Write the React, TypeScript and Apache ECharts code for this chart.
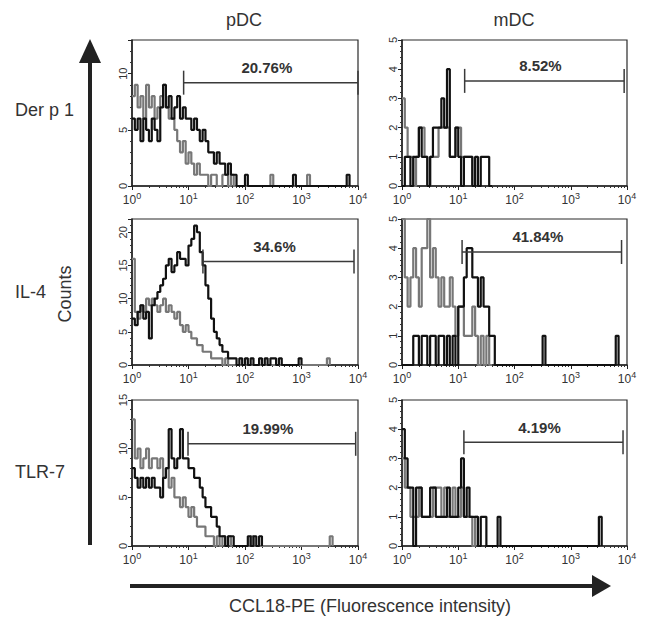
import React, { useEffect, useRef } from 'react';
import * as echarts from 'echarts';

// histogram channel width, in decades of fluorescence intensity
const BIN_STEP = 0.05;

const rowLabels = ['Der p 1', 'IL-4', 'TLR-7'];
const colLabels = ['pDC', 'mDC'];
const xTickLabels = ['0', '1', '2', '3', '4'];

// pDC, Der p 1
const pdcDerGray = [8, 9, 7, 8, 6, 9, 7, 8, 6, 7, 8, 9, 7, 6, 6, 5, 4, 3, 4, 2, 3, 2, 1, 2, 1, 1, 1, 0, 1, 1, 0, 0, 1, 1, 0, 1, 0, 0, 0, 0, 0, 0, 0, 0, 0, 0, 0, 0, 0, 1, 0, 0, 0, 0, 0, 0, 0, 0, 0, 0, 0, 0, 1];
const pdcDerBlack = [6, 5, 6, 4, 6, 5, 4, 6, 5, 4, 7, 9, 7, 8, 6, 7, 8, 6, 7, 6, 6, 5, 6, 5, 4, 5, 4, 3, 3, 2, 3, 2, 2, 1, 2, 1, 1, 0, 0, 0, 1, 0, 0, 0, 0, 0, 0, 0, 0, 0, 0, 0, 0, 0, 0, 0, 0, 1, 0, 0, 0, 0, 0, 0, 0, 0, 0, 0, 0, 0, 0, 0, 0, 0, 0, 0, 1];
// mDC, Der p 1
const mdcDerGray = [3, 2, 1, 1, 0, 1, 2, 2, 1, 0, 1, 1, 1, 2, 2, 2, 2, 1, 1, 2, 2, 1, 1, 1, 1, 0];
const mdcDerBlack = [0, 1, 1, 0, 1, 1, 2, 1, 1, 0, 1, 2, 2, 2, 3, 2, 4, 1, 1, 2, 1, 0, 1, 1, 1, 0, 1, 0, 1, 1, 1, 0];
// pDC, IL-4
const pdcIl4Gray = [16, 8, 7, 9, 8, 10, 9, 10, 9, 8, 9, 10, 8, 9, 8, 7, 8, 6, 5, 6, 5, 4, 4, 3, 3, 2, 2, 2, 1, 1, 1, 1, 0, 1, 0, 0, 0, 0, 0, 0, 0, 0, 0, 0, 0, 0, 0, 0, 0, 0, 0, 0, 0, 0, 0, 0, 0, 0, 0, 0, 0, 0, 0, 0, 0, 0, 0, 0, 0, 1];
const pdcIl4Black = [7, 6, 8, 9, 7, 8, 4, 9, 10, 11, 12, 13, 15, 16, 14, 15, 17, 16, 16, 15, 18, 19, 21, 20, 17, 15, 12, 10, 7, 5, 4, 3, 2, 2, 1, 1, 1, 0, 1, 0, 1, 0, 1, 0, 0, 1, 0, 1, 0, 1, 1, 0, 1, 0, 0, 0, 0, 0, 0, 1];
// mDC, IL-4
const mdcIl4Gray = [5, 3, 2, 3, 4, 3, 2, 4, 4, 5, 3, 4, 3, 2, 3, 2, 2, 3, 2, 1, 2, 2, 1, 1, 1, 2, 1, 0, 1, 0, 1, 0];
const mdcIl4Black = [0, 0, 0, 0, 1, 1, 0, 1, 1, 0, 1, 1, 0, 1, 1, 0, 1, 0, 1, 0, 2, 2, 3, 4, 4, 3, 3, 2, 3, 2, 2, 1, 1, 0, 0, 0, 0, 0, 0, 0, 0, 0, 0, 0, 0, 0, 0, 0, 0, 0, 1, 0, 0, 0, 0, 0, 0, 0, 0, 0, 0, 0, 0, 0, 0, 0, 0, 0, 0, 0, 0, 0, 0, 0, 0, 0, 1];
// pDC, TLR-7
const pdcTlrGray = [13, 9, 10, 8, 9, 10, 8, 9, 9, 8, 9, 7, 8, 6, 7, 5, 5, 4, 5, 4, 3, 4, 3, 2, 2, 2, 1, 1, 1, 0, 1, 0, 1, 0, 1, 0, 0, 0, 0, 0, 0, 0, 1, 0, 0, 0, 0, 0, 0, 0, 0, 0, 0, 0, 0, 0, 0, 0, 0, 0, 0, 0, 0, 0, 0, 0, 0, 0, 0, 0, 1];
const pdcTlrBlack = [8, 7, 6, 7, 6, 7, 6, 7, 6, 6, 5, 7, 8, 12, 9, 8, 9, 12, 9, 9, 8, 8, 7, 7, 6, 5, 4, 4, 3, 3, 2, 1, 1, 0, 1, 1, 0, 0, 0, 0, 0, 1, 0, 1, 0, 1];
// mDC, TLR-7
const mdcTlrGray = [3, 2, 2, 1, 1, 1, 2, 1, 1, 1, 1, 2, 2, 2, 1, 2, 1, 1, 2, 1, 1, 2, 1, 1, 1, 0, 1];
const mdcTlrBlack = [4, 3, 2, 2, 0, 2, 2, 1, 1, 1, 2, 2, 1, 1, 1, 1, 2, 1, 1, 1, 2, 3, 1, 2, 1, 1, 1, 0, 1, 1, 0, 0, 0, 0, 1, 0, 0, 0, 0, 0, 0, 0, 0, 0, 0, 0, 0, 0, 0, 0, 0, 0, 0, 0, 0, 0, 0, 0, 0, 0, 0, 0, 0, 0, 0, 0, 0, 0, 0, 0, 1];

// gate: start, end, level
const gateStarts = [8.2, 13, 18, 11.7, 9.8, 12.6];
const gateEnds = [10000, 8900, 8500, 8000, 9100, 8500];
const gateLevels = [9.2, 3.6, 15.6, 3.87, 10.5, 3.55];
const gateLabels = ['20.76%', '8.52%', '34.6%', '41.84%', '19.99%', '4.19%'];

const yMaxes = [13, 5, 22, 5, 15, 5];
const yIntervals = [5, 1, 5, 1, 5, 1];

const grayData = [pdcDerGray, mdcDerGray, pdcIl4Gray, mdcIl4Gray, pdcTlrGray, mdcTlrGray];
const blackData = [pdcDerBlack, mdcDerBlack, pdcIl4Black, mdcIl4Black, pdcTlrBlack, mdcTlrBlack];

const FONT = '"Liberation Sans", Arial, sans-serif';

function toSteps(vals: number[]) {
  const pts: number[][] = vals.map((v, i) => [Math.pow(10, i * BIN_STEP), v]);
  pts.push([Math.pow(10, vals.length * BIN_STEP), 0]);
  return pts;
}

export default function App() {
  const ref = useRef<HTMLDivElement>(null);
  useEffect(() => {
    if (!ref.current) return;
    const chart = echarts.init(ref.current, null, { renderer: 'svg' });
    const colLeft = [132, 402];
    const colWidth = [226, 225];
    const rowTop = [40, 219, 400];
    const grids: any[] = [];
    const xAxes: any[] = [];
    const yAxes: any[] = [];
    const series: any[] = [];
    for (let p = 0; p < 6; p++) {
      const r = Math.floor(p / 2);
      const c = p % 2;
      grids.push({
        left: colLeft[c], top: rowTop[r], width: colWidth[c], height: 146,
        show: true, borderColor: '#2a2a2a', borderWidth: 1.2, backgroundColor: '#fff',
      });
      xAxes.push({
        type: 'log', logBase: 10, min: 1, max: 10000, gridIndex: p,
        axisLine: { show: true, onZero: false, lineStyle: { color: '#222', width: 1.5 } },
        axisTick: { show: true, length: 4, lineStyle: { color: '#222' } },
        minorTick: { show: true, splitNumber: 9, length: 2, lineStyle: { color: '#333' } },
        splitLine: { show: false },
        axisLabel: {
          margin: 5, color: '#333', fontFamily: FONT, fontSize: 12,
          formatter: (v: number) => `{b|10}{s|${xTickLabels[Math.round(Math.log10(v))]}}`,
          rich: {
            b: { fontSize: 12, fontFamily: FONT, color: '#333', verticalAlign: 'bottom' },
            s: { fontSize: 9, fontFamily: FONT, color: '#333', verticalAlign: 'bottom', padding: [0, 0, 6, 0] },
          },
        },
      });
      const iv = yIntervals[p];
      yAxes.push({
        type: 'value', min: 0, max: yMaxes[p], interval: iv, gridIndex: p,
        axisLine: { show: true, lineStyle: { color: '#222', width: 1.5 } },
        axisTick: { show: true, length: 4, lineStyle: { color: '#222' } },
        minorTick: { show: true, splitNumber: 5, length: 2, lineStyle: { color: '#333' } },
        splitLine: { show: false },
        axisLabel: {
          rotate: 90, margin: 4, fontSize: 11, fontFamily: FONT, color: '#333',
          formatter: (v: number) => (Math.abs(v % iv) < 1e-9 ? String(v) : ''),
        },
      });
      series.push({
        type: 'line', xAxisIndex: p, yAxisIndex: p, step: 'end', showSymbol: false,
        data: toSteps(grayData[p]), lineStyle: { color: '#777', width: 2.2 }, z: 2,
      });
      series.push({
        type: 'line', xAxisIndex: p, yAxisIndex: p, step: 'end', showSymbol: false,
        data: toSteps(blackData[p]), lineStyle: { color: '#111', width: 2.2 }, z: 3,
      });
      const label = gateLabels[p];
      series.push({
        type: 'custom', xAxisIndex: p, yAxisIndex: p, z: 4, clip: false,
        data: [[gateStarts[p], gateEnds[p], gateLevels[p]]],
        renderItem: (_params: any, api: any) => {
          const a = api.coord([api.value(0), api.value(2)]);
          const b = api.coord([api.value(1), api.value(2)]);
          const h = 12;
          const st = { stroke: '#3a3a3a', lineWidth: 1.5 };
          return {
            type: 'group',
            children: [
              { type: 'line', shape: { x1: a[0], y1: a[1], x2: b[0], y2: b[1] }, style: st },
              { type: 'line', shape: { x1: a[0], y1: a[1] - h, x2: a[0], y2: a[1] + h }, style: st },
              { type: 'line', shape: { x1: b[0], y1: b[1] - h, x2: b[0], y2: b[1] + h }, style: st },
              {
                type: 'text',
                style: {
                  text: label, x: (a[0] + b[0]) / 2 - 4, y: a[1] - 15,
                  align: 'center', verticalAlign: 'middle',
                  font: `bold 15px ${FONT}`, fill: '#333',
                },
              },
            ],
          };
        },
      });
    }

    const txt = (text: string, x: number, y: number, size: number, extra: any = {}) => ({
      type: 'text', x, y,
      style: { text, fontSize: size, fontFamily: FONT, fill: '#333', align: 'center', verticalAlign: 'middle' },
      ...extra,
    });
    const leftTxt = (text: string, y: number) => ({
      type: 'text', x: 15, y,
      style: { text, fontSize: 18, fontFamily: FONT, fill: '#333', align: 'left', verticalAlign: 'middle' },
    });

    const graphic: any[] = [
      txt(colLabels[0], 244, 20, 18),
      txt(colLabels[1], 514, 20, 18),
      leftTxt(rowLabels[0], 110),
      leftTxt(rowLabels[1], 292),
      leftTxt(rowLabels[2], 472),
      txt('Counts', 65, 294, 18, { rotation: Math.PI / 2 }),
      { type: 'line', shape: { x1: 90, y1: 58, x2: 90, y2: 545 }, style: { stroke: '#222', lineWidth: 4 } },
      { type: 'polygon', shape: { points: [[90, 39], [79, 63], [101, 63]] }, style: { fill: '#222' } },
      { type: 'line', shape: { x1: 130, y1: 586, x2: 596, y2: 586 }, style: { stroke: '#222', lineWidth: 4 } },
      { type: 'polygon', shape: { points: [[611, 586], [592, 575], [592, 597]] }, style: { fill: '#222' } },
      txt('CCL18-PE (Fluorescence intensity)', 370, 606, 18),
    ];

    chart.setOption({
      animation: false,
      backgroundColor: '#fff',
      grid: grids,
      xAxis: xAxes,
      yAxis: yAxes,
      series,
      graphic,
    });
    return () => chart.dispose();
  }, []);
  return <div ref={ref} style={{ position: 'fixed', left: 0, top: 0, width: 647, height: 617 }} />;
}
